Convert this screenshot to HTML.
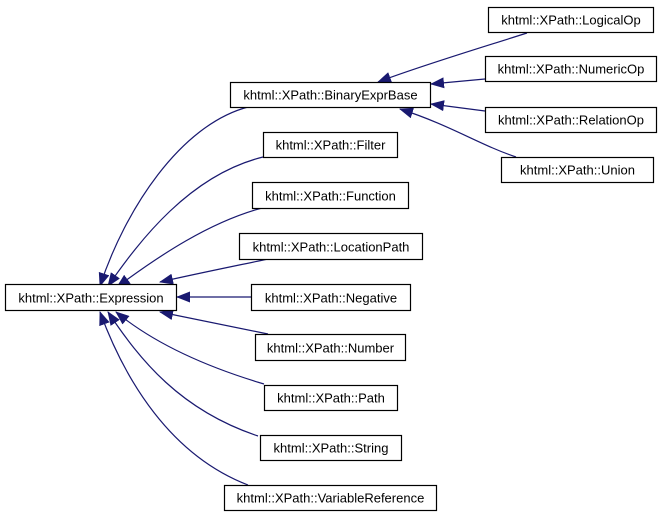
<!DOCTYPE html>
<html><head><style>
body{margin:0;background:#fff;}
svg{display:block;}
text{font-family:"Liberation Sans",sans-serif;font-size:13px;fill:#000;}
</style></head><body>
<svg width="663" height="519" viewBox="0 0 663 519" xmlns="http://www.w3.org/2000/svg">
<defs>
<marker id="a" markerWidth="14" markerHeight="11" refX="13" refY="5.5" orient="auto" markerUnits="userSpaceOnUse">
<path d="M0,0 L14,5.5 L0,11 z" fill="#191970"/>
</marker>
</defs>
<g fill="none" stroke="#191970" stroke-width="1.2" marker-end="url(#a)">
<path d="M248,107 C180,125 125,210 100,286"/>
<path d="M263,157 C190,175 140,240 108,286"/>
<path d="M262,208 C210,222 160,255 117,287"/>
<path d="M268,259 C230,267 195,274 160,282"/>
<path d="M251,297 L177,297"/>
<path d="M268,334 C230,326 195,319 160,312"/>
<path d="M264,384 C200,365 150,340 116,312"/>
<path d="M258,436 C180,410 140,360 108,312"/>
<path d="M248,485 C170,455 125,380 100,312"/>
<path d="M527,33 C480,48 420,66 378,82"/>
<path d="M485,79 L431,84"/>
<path d="M485,111 L431,104"/>
<path d="M516,157 C480,145 450,125 400,109"/>
</g>
<g fill="#fff" stroke="#000" stroke-width="1.2">
<rect x="230.5" y="82.5" width="200" height="25"/>
<rect x="263.5" y="132.5" width="134" height="25"/>
<rect x="252.5" y="182.5" width="156" height="26"/>
<rect x="239.5" y="233.5" width="183" height="26"/>
<rect x="5.5" y="284.5" width="171" height="26"/>
<rect x="251.5" y="284.5" width="159" height="26"/>
<rect x="255.5" y="334.5" width="150" height="26"/>
<rect x="264.5" y="385.5" width="133" height="25"/>
<rect x="260.5" y="435.5" width="141" height="25"/>
<rect x="224.5" y="485.5" width="212" height="25"/>
<rect x="488.5" y="7.5" width="165" height="25"/>
<rect x="485.5" y="56.5" width="171" height="25"/>
<rect x="485.5" y="107.5" width="171" height="25"/>
<rect x="501.5" y="157.5" width="152" height="25"/>
</g>
<g text-anchor="middle">
<text x="330.5" y="99.5">khtml::XPath::BinaryExprBase</text>
<text x="330.5" y="149.5">khtml::XPath::Filter</text>
<text x="330.5" y="200.5">khtml::XPath::Function</text>
<text x="331" y="251.5">khtml::XPath::LocationPath</text>
<text x="91" y="302.5">khtml::XPath::Expression</text>
<text x="331" y="302.5">khtml::XPath::Negative</text>
<text x="330.5" y="352.5">khtml::XPath::Number</text>
<text x="331" y="402.5">khtml::XPath::Path</text>
<text x="331" y="452.5">khtml::XPath::String</text>
<text x="330.5" y="502.5">khtml::XPath::VariableReference</text>
<text x="571" y="24.5">khtml::XPath::LogicalOp</text>
<text x="571" y="73.5">khtml::XPath::NumericOp</text>
<text x="571" y="124.5">khtml::XPath::RelationOp</text>
<text x="577.5" y="174.5">khtml::XPath::Union</text>
</g>
</svg>
</body></html>
